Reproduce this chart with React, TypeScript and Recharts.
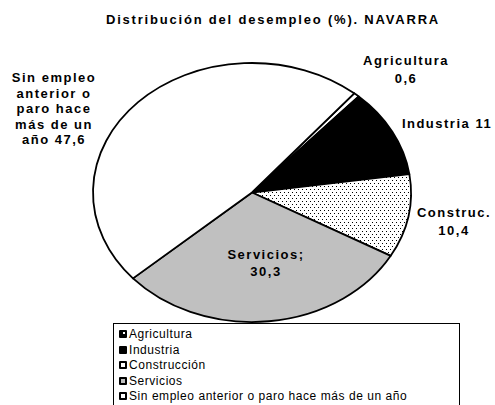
import React from 'react';
import { PieChart, Pie, Cell } from 'recharts';

const TITLE = 'Distribución del desempleo (%). NAVARRA';
const CATEGORIES = [
  'Agricultura',
  'Industria',
  'Construcción',
  'Servicios',
  'Sin empleo anterior o paro hace más de un año',
];
const VALUES = [0.6, 11, 10.4, 30.3, 47.6];
const LABEL_LINES = [
  ['Agricultura', '0,6'],
  ['Industria 11'],
  ['Construc.', '10,4'],
  ['Servicios;', '30,3'],
  ['Sin empleo', 'anterior o', 'paro hace', 'más de un', 'año 47,6'],
];
const FILLS = ['#ffffff', '#000000', 'url(#dots)', '#c0c0c0', '#ffffff'];

// label block placement relative to pie centre (layout only)
const LABEL_LAYOUT = [
  { dx: 154, dy: -123.5, lh: 18 },
  { dx: 195, dy: -69.5, lh: 18 },
  { dx: 202, dy: 28.5, lh: 18 },
  { dx: 14, dy: 70, lh: 17 },
  { dx: -198, dy: -84.5, lh: 15.5 },
];

const FONT = '"Liberation Sans", Arial, sans-serif';
const Y_RATIO = 0.8145;

const data = CATEGORIES.map((name, i) => ({ name, value: VALUES[i] }));

const RAD = Math.PI / 180;

function EllipseSector(props: any) {
  const { cx, cy, outerRadius, startAngle, endAngle, fill } = props;
  const rx = outerRadius;
  const ry = outerRadius * Y_RATIO;
  const x1 = cx + rx * Math.cos(startAngle * RAD);
  const y1 = cy - ry * Math.sin(startAngle * RAD);
  const x2 = cx + rx * Math.cos(endAngle * RAD);
  const y2 = cy - ry * Math.sin(endAngle * RAD);
  const delta = Math.abs(endAngle - startAngle);
  const large = delta > 180 ? 1 : 0;
  const sweep = endAngle < startAngle ? 1 : 0;
  const d = `M${cx},${cy} L${x1},${y1} A${rx},${ry} 0 ${large} ${sweep} ${x2},${y2} Z`;
  return <path d={d} fill={fill} stroke="#000" strokeWidth={1.8} strokeLinejoin="round" />;
}

function renderLabel(props: any) {
  const { cx, cy, index } = props;
  const lines = LABEL_LINES[index];
  const lay = LABEL_LAYOUT[index];
  const x = cx + lay.dx;
  const y0 = cy + lay.dy - ((lines.length - 1) * lay.lh) / 2;
  return (
    <text
      key={`lbl-${index}`}
      x={x}
      y={y0}
      textAnchor="middle"
      dominantBaseline="central"
      fontFamily={FONT}
      fontWeight="bold"
      fontSize={13}
      letterSpacing={1.5}
      fill="#000"
    >
      {lines.map((l, i) => (
        <tspan key={i} x={x} y={y0 + i * lay.lh}>
          {l}
        </tspan>
      ))}
    </text>
  );
}

function Swatch({ index }: { index: number }) {
  if (index === 0) {
    return (
      <svg width={8} height={8} style={{ display: 'block' }}>
        <rect x={0} y={0} width={8} height={8} rx={1} fill="#000" />
        <rect x={4} y={2} width={2} height={2} fill="#fff" />
      </svg>
    );
  }
  if (index === 1) {
    return (
      <svg width={8} height={8} style={{ display: 'block' }}>
        <rect x={0} y={0} width={8} height={8} rx={1} fill="#000" />
      </svg>
    );
  }
  const inner = index === 3 ? '#c0c0c0' : '#ffffff';
  return (
    <svg width={8} height={8} style={{ display: 'block' }}>
      <rect x={0} y={0} width={8} height={8} rx={1} fill="#000" />
      <rect x={2} y={2} width={4} height={4} fill={inner} />
    </svg>
  );
}

export default function App() {
  return (
    <div style={{ position: 'absolute', left: 0, top: 0, width: 495, height: 405, background: '#fff', overflow: 'hidden' }}>
      <div
        style={{
          position: 'absolute',
          left: 0,
          width: 546,
          top: 12,
          textAlign: 'center',
          fontFamily: FONT,
          fontWeight: 'bold',
          fontSize: 13,
          letterSpacing: 1.8,
          lineHeight: '16px',
          color: '#000',
        }}
      >
        {TITLE}
      </div>
      <div style={{ position: 'absolute', left: 0, top: 0 }}>
        <PieChart width={495} height={405} margin={{ top: 0, right: 0, bottom: 0, left: 0 }}>
          <defs>
            <pattern id="dots" width={4} height={6} patternUnits="userSpaceOnUse">
              <rect width={4} height={6} fill="#fff" />
              <rect x={0} y={0} width={1} height={1} fill="#000" />
              <rect x={2} y={3} width={1} height={1} fill="#000" />
            </pattern>
          </defs>
          <Pie
            data={data}
            dataKey="value"
            nameKey="name"
            cx={252}
            cy={192.5}
            outerRadius={159}
            startAngle={50}
            endAngle={-310}
            stroke="#000"
            strokeWidth={1.8}
            shape={EllipseSector}
            labelLine={false}
            label={renderLabel}
            isAnimationActive={false}
          >
            {data.map((d, i) => (
              <Cell key={d.name} fill={FILLS[i]} />
            ))}
          </Pie>
        </PieChart>
      </div>
      <div
        style={{
          position: 'absolute',
          left: 113,
          top: 323,
          width: 347,
          height: 120,
          border: '1px solid #000',
          boxSizing: 'border-box',
          background: '#fff',
        }}
      >
        {CATEGORIES.map((c, i) => (
          <div
            key={c}
            style={{
              position: 'absolute',
              left: 5,
              top: 2 + i * 15.5,
              height: 16,
              display: 'flex',
              alignItems: 'center',
              fontFamily: FONT,
              fontSize: 12,
              letterSpacing: 0.55,
              color: '#000',
              whiteSpace: 'nowrap',
            }}
          >
            <Swatch index={i} />
            <span style={{ marginLeft: 2 }}>{c}</span>
          </div>
        ))}
      </div>
    </div>
  );
}
